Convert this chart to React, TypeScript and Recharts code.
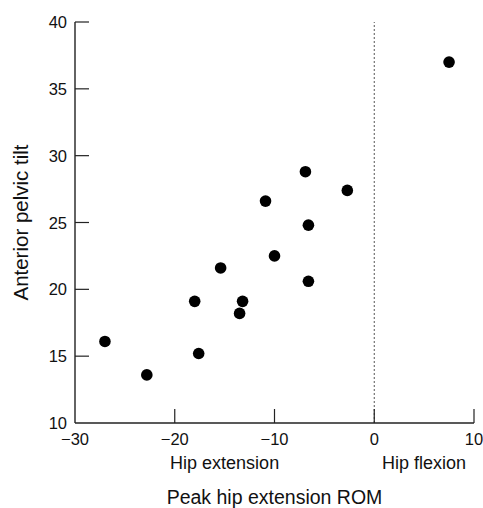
import { ScatterChart, Scatter, XAxis, YAxis, ReferenceLine } from "recharts";

// peak hip extension ROM (deg) vs anterior pelvic tilt (deg), one entry per subject
const hipRom = [7.5, -6.9, -2.7, -10.9, -6.6, -10.0, -15.4, -6.6, -18.0, -13.2, -13.5, -27.0, -17.6, -22.8];
const pelvicTilt = [37.0, 28.8, 27.4, 26.6, 24.8, 22.5, 21.6, 20.6, 19.1, 19.1, 18.2, 16.1, 15.2, 13.6];

const xTicks = [-30, -20, -10, 0, 10];
const yTicks = [10, 15, 20, 25, 30, 35, 40];

const regionLabels = [
    { label: "Hip extension", at: -15 },
    { label: "Hip flexion", at: 5 },
];

const points = hipRom.map((rom, i) => ({ rom, tilt: pelvicTilt[i] }));

const FONT = "'Liberation Sans', Arial, sans-serif";
const TICK_LEN = 14;

const fmt = (v: number) => (v < 0 ? `\u2212${Math.abs(v)}` : `${v}`);

function XTick(props: any) {
    const { x, y, payload, index } = props;
    return (
        <g>
            {index > 0 && <line x1={x} y1={y} x2={x} y2={y - TICK_LEN} stroke="#222" strokeWidth={1.2} />}
            <text x={x} y={y + 22} textAnchor="middle" fontSize={16.5} fontFamily={FONT} fill="#111">
                {fmt(payload.value)}
            </text>
        </g>
    );
}

function YTick(props: any) {
    const { x, y, payload, index } = props;
    return (
        <g>
            {index > 0 && <line x1={x} y1={y} x2={x + TICK_LEN} y2={y} stroke="#222" strokeWidth={1.2} />}
            <text x={x - 8} y={y + 6} textAnchor="end" fontSize={16.5} fontFamily={FONT} fill="#111">
                {fmt(payload.value)}
            </text>
        </g>
    );
}

function XTitle(props: any) {
    const { viewBox } = props;
    return (
        <text x={viewBox.x + viewBox.width / 2} y={viewBox.y + 81} textAnchor="middle" fontSize={19.5} fontFamily={FONT} fill="#111">
            Peak hip extension ROM
        </text>
    );
}

function YTitle(props: any) {
    const { viewBox } = props;
    const cx = viewBox.x + 28;
    const cy = viewBox.y + viewBox.height / 2;
    return (
        <text x={cx} y={cy} transform={`rotate(-90 ${cx} ${cy})`} textAnchor="middle" fontSize={20.5} fontFamily={FONT} fill="#111">
            Anterior pelvic tilt
        </text>
    );
}

function Dot(props: any) {
    const { cx, cy } = props;
    return <circle cx={cx} cy={cy} r={5.8} fill="#000" />;
}

export default function App() {
    return (
        <div style={{ position: "absolute", left: 0, top: 0, background: "#fff" }}>
            <ScatterChart width={483} height={508} margin={{ top: 22, right: 9, left: 0, bottom: 0 }}>
                <XAxis
                    type="number"
                    dataKey="rom"
                    domain={[-30, 10]}
                    ticks={xTicks}
                    interval={0}
                    height={85}
                    tickSize={0}
                    tickMargin={0}
                    tickLine={false}
                    axisLine={{ stroke: "#222", strokeWidth: 1.4 }}
                    tick={<XTick />}
                    label={<XTitle />}
                    allowDataOverflow
                />
                <YAxis
                    type="number"
                    dataKey="tilt"
                    domain={[10, 40]}
                    ticks={yTicks}
                    interval={0}
                    width={75}
                    tickSize={0}
                    tickMargin={0}
                    tickLine={false}
                    axisLine={{ stroke: "#222", strokeWidth: 1.4 }}
                    tick={<YTick />}
                    label={<YTitle />}
                    allowDataOverflow
                />
                <ReferenceLine x={0} stroke="#555" strokeDasharray="2 2" strokeWidth={1} />
                {regionLabels.map((r) => (
                    <ReferenceLine
                        key={r.label}
                        x={r.at}
                        stroke="none"
                        label={{ value: r.label, position: "bottom", offset: 33, fontSize: 18, fontFamily: FONT, fill: "#111" }}
                    />
                ))}
                <Scatter data={points} fill="#000" shape={<Dot />} isAnimationActive={false} />
            </ScatterChart>
        </div>
    );
}
